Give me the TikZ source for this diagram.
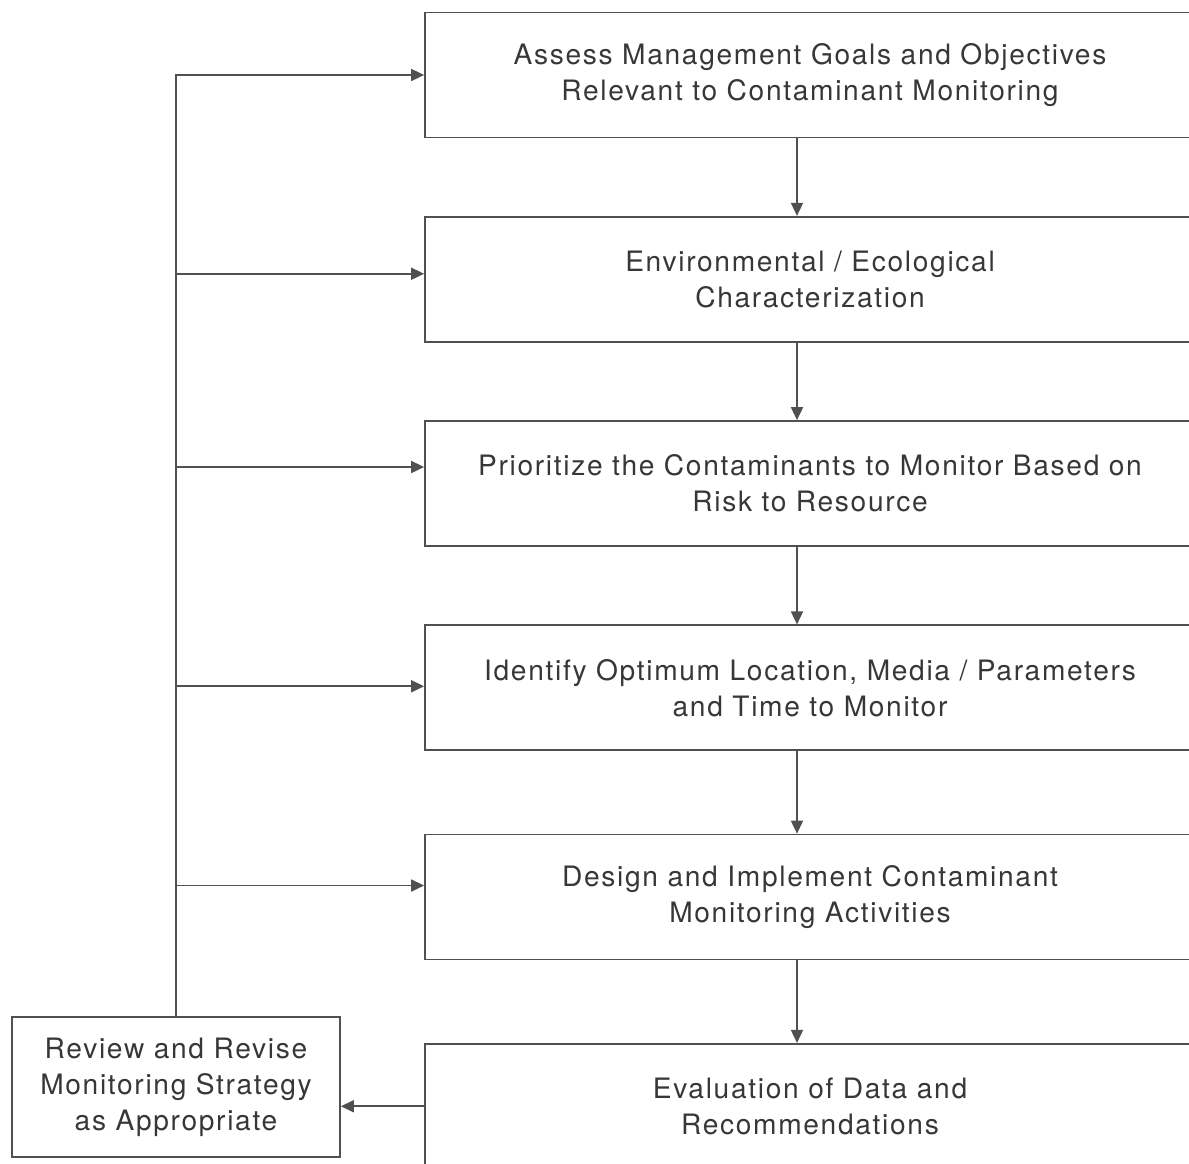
\documentclass[tikz,border=0pt]{standalone}
\usepackage{fontspec}
\setmainfont{TeX Gyre Heros}[LetterSpace=6]
\usepackage{xcolor}
\usepackage{tikz}
\usetikzlibrary{arrows.meta, positioning, calc}
\definecolor{lineink}{RGB}{80, 80, 80}
\definecolor{textink}{RGB}{55, 55, 55}

\begin{document}
\begin{tikzpicture}[
  every node/.style={font=\fontsize{16pt}{20.5pt}\selectfont, text=textink},
  box/.style={
    draw=lineink, line width=1pt,
    minimum width=15.4cm, minimum height=2.5cm,
    align=center, inner sep=0pt
  },
  sidebox/.style={
    draw=lineink, line width=1pt,
    minimum width=6.56cm, minimum height=2.8cm,
    align=center, inner sep=0pt
  },
  arrow/.style={-{Triangle[length=2.6mm, width=2.4mm]}, line width=1pt, color=lineink}
]
  \useasboundingbox (0,0) rectangle (23.78,-23.26);
  \clip (0,0) rectangle (23.78,-23.26);

  % Colonna dei passi (destra)
  \node[box] (goals) at (16.2,-1.5) {Assess Management Goals and Objectives\\Relevant to Contaminant Monitoring};
  \node[box, below=1.55cm of goals] (charact) {Environmental / Ecological\\Characterization};
  \node[box, below=1.55cm of charact] (prior) {Prioritize the Contaminants to Monitor Based on\\Risk to Resource};
  \node[box, below=1.55cm of prior] (ident) {Identify Optimum Location, Media / Parameters\\and Time to Monitor};
  \node[box, below=1.65cm of ident] (design) {Design and Implement Contaminant\\Monitoring Activities};
  \node[box, below=1.65cm of design] (eval) {Evaluation of Data and\\Recommendations};

  % Nodo laterale (revisione)
  \node[sidebox] (review) at (3.52,-21.74) {Review and Revise\\Monitoring Strategy\\as Appropriate};

  % Frecce verticali
  \foreach \a/\b in {goals/charact, charact/prior, prior/ident, ident/design, design/eval}
    \draw[arrow] ([xshift=-0.26cm]\a.south) -- ([xshift=-0.26cm]\b.north);

  % Da valutazione a revisione
  \draw[arrow] (eval.west) -- (eval.west -| review.east);

  % Ritorno: linea verticale a sinistra e frecce verso i passi
  \draw[arrow] (review.north) |- (goals.west);
  \draw[arrow] ([yshift=0.11cm]charact.west -| review.north) -- ([yshift=0.11cm]charact.west);
  \draw[arrow] ([yshift=0.33cm]prior.west -| review.north) -- ([yshift=0.33cm]prior.west);
  \draw[arrow] ([yshift=0.03cm]ident.west -| review.north) -- ([yshift=0.03cm]ident.west);
  \draw[arrow] ([yshift=0.23cm]design.west -| review.north) -- ([yshift=0.23cm]design.west);

\end{tikzpicture}
\end{document}
